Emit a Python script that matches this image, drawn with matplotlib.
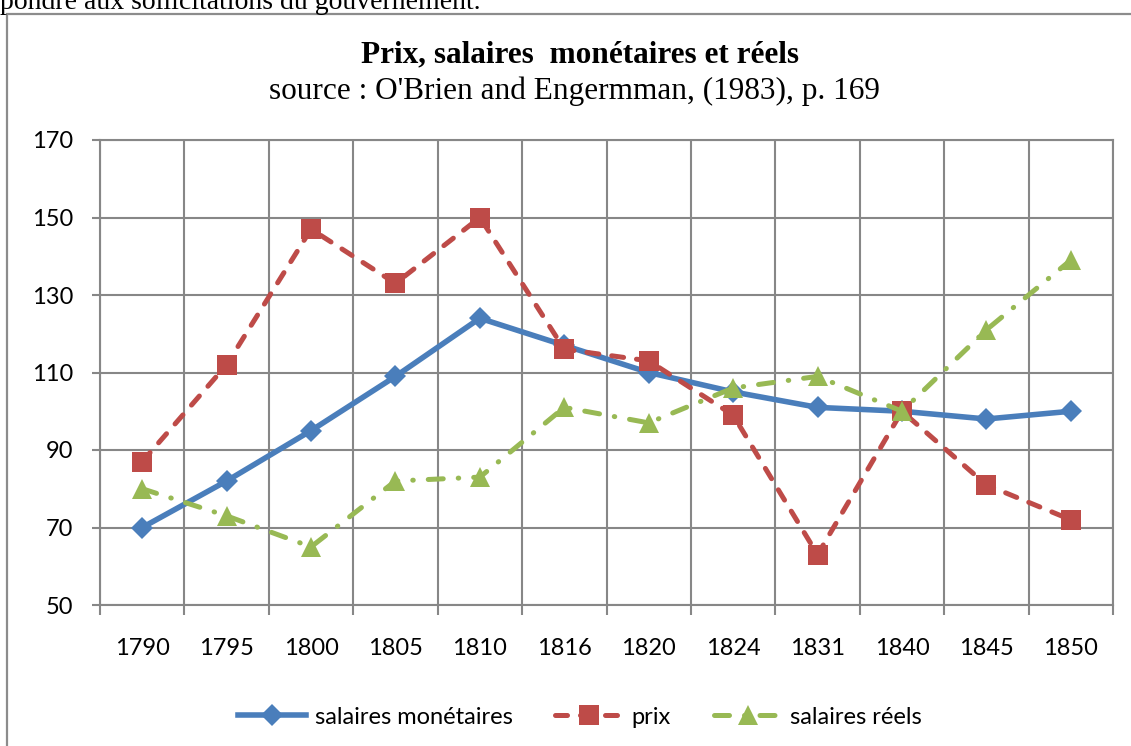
import matplotlib
matplotlib.use("Agg")
import matplotlib.pyplot as plt
from matplotlib.patches import Rectangle

# data
annees = ["1790", "1795", "1800", "1805", "1810", "1816", "1820", "1824", "1831", "1840", "1845", "1850"]
salaires_monetaires = [70, 82, 95, 109, 124, 117, 110, 105, 101, 100, 98, 100]
prix = [87, 112, 147, 133, 150, 116, 113, 99, 63, 100, 81, 72]
salaires_reels = [80, 73, 65, 82, 83, 101, 97, 106, 109, 100, 121, 139]
y_ticks = [50, 70, 90, 110, 130, 150, 170]

W, H = 1131, 746
fig = plt.figure(figsize=(W / 100, H / 100), dpi=100)

# frame of the embedded chart + bit of document text above it
fig.patches.append(Rectangle((7 / W, -0.1), 1.2, 1 - 14 / H + 0.1, transform=fig.transFigure,
                             fill=False, edgecolor="#8c8c8c", linewidth=1.6))
fig.text(0 / W, 1 - 9 / H, "pondre aux sollicitations du gouvernement.", family="Liberation Serif",
         fontsize=20, va="baseline", ha="left")

fig.text(580 / W, 1 - 55 / H, "Prix, salaires  monétaires et réels", family="Liberation Serif",
         fontsize=22.5, fontweight="bold", ha="center", va="center")
fig.text(574 / W, 1 - 91 / H, "source : O'Brien and Engermman, (1983), p. 169", family="Liberation Serif",
         fontsize=22.5, ha="center", va="center")

ax = fig.add_axes([100 / W, 1 - 605 / H, 1013 / W, 465 / H])
x = list(range(len(annees)))
grey = "#878787"

ax.plot(x, salaires_monetaires, color="#4a7ebb", linewidth=4, marker="D", markersize=11,
        markeredgewidth=0, label="salaires monétaires", zorder=3)
ax.plot(x, prix, color="#be4b48", linewidth=3.6, dashes=(2.4, 2.6), dash_capstyle="round",
        marker="s", markersize=14.5, markeredgewidth=0, label="prix", zorder=3)
ax.plot(x, salaires_reels, color="#98b954", linewidth=3.6, dashes=(3.0, 3.0, 0.1, 3.0), dash_capstyle="round",
        marker="^", markersize=15, markeredgewidth=0, label="salaires réels", zorder=3)

ax.set_xlim(-0.5, len(annees) - 0.5)
ax.set_ylim(50, 170)
ax.set_xticks(x)
ax.set_xticklabels(annees)
ax.set_xticks([i - 0.5 for i in range(len(annees) + 1)], minor=True)
ax.set_yticks(y_ticks)
ax.tick_params(axis="x", which="major", length=0, pad=24, labelsize=17)
ax.tick_params(axis="x", which="minor", length=7, width=1.5, color=grey)
ax.tick_params(axis="y", which="major", length=6, width=1.5, color=grey, pad=13, labelsize=17)
for lab in ax.get_xticklabels() + ax.get_yticklabels():
    lab.set_family("Lato")
ax.grid(True, axis="y", which="major", color=grey, linewidth=1.5)
ax.grid(True, axis="x", which="minor", color=grey, linewidth=1.5)
ax.set_axisbelow(True)
for s in ax.spines.values():
    s.set_color(grey)
    s.set_linewidth(1.5)

leg = fig.legend(loc="center", bbox_to_anchor=(580 / W, 1 - 717 / H), ncol=3, frameon=False,
                 prop={"family": "Lato", "size": 17}, handlelength=2.9, handletextpad=0.35,
                 columnspacing=1.8)

fig.savefig("out.png", dpi=100)
